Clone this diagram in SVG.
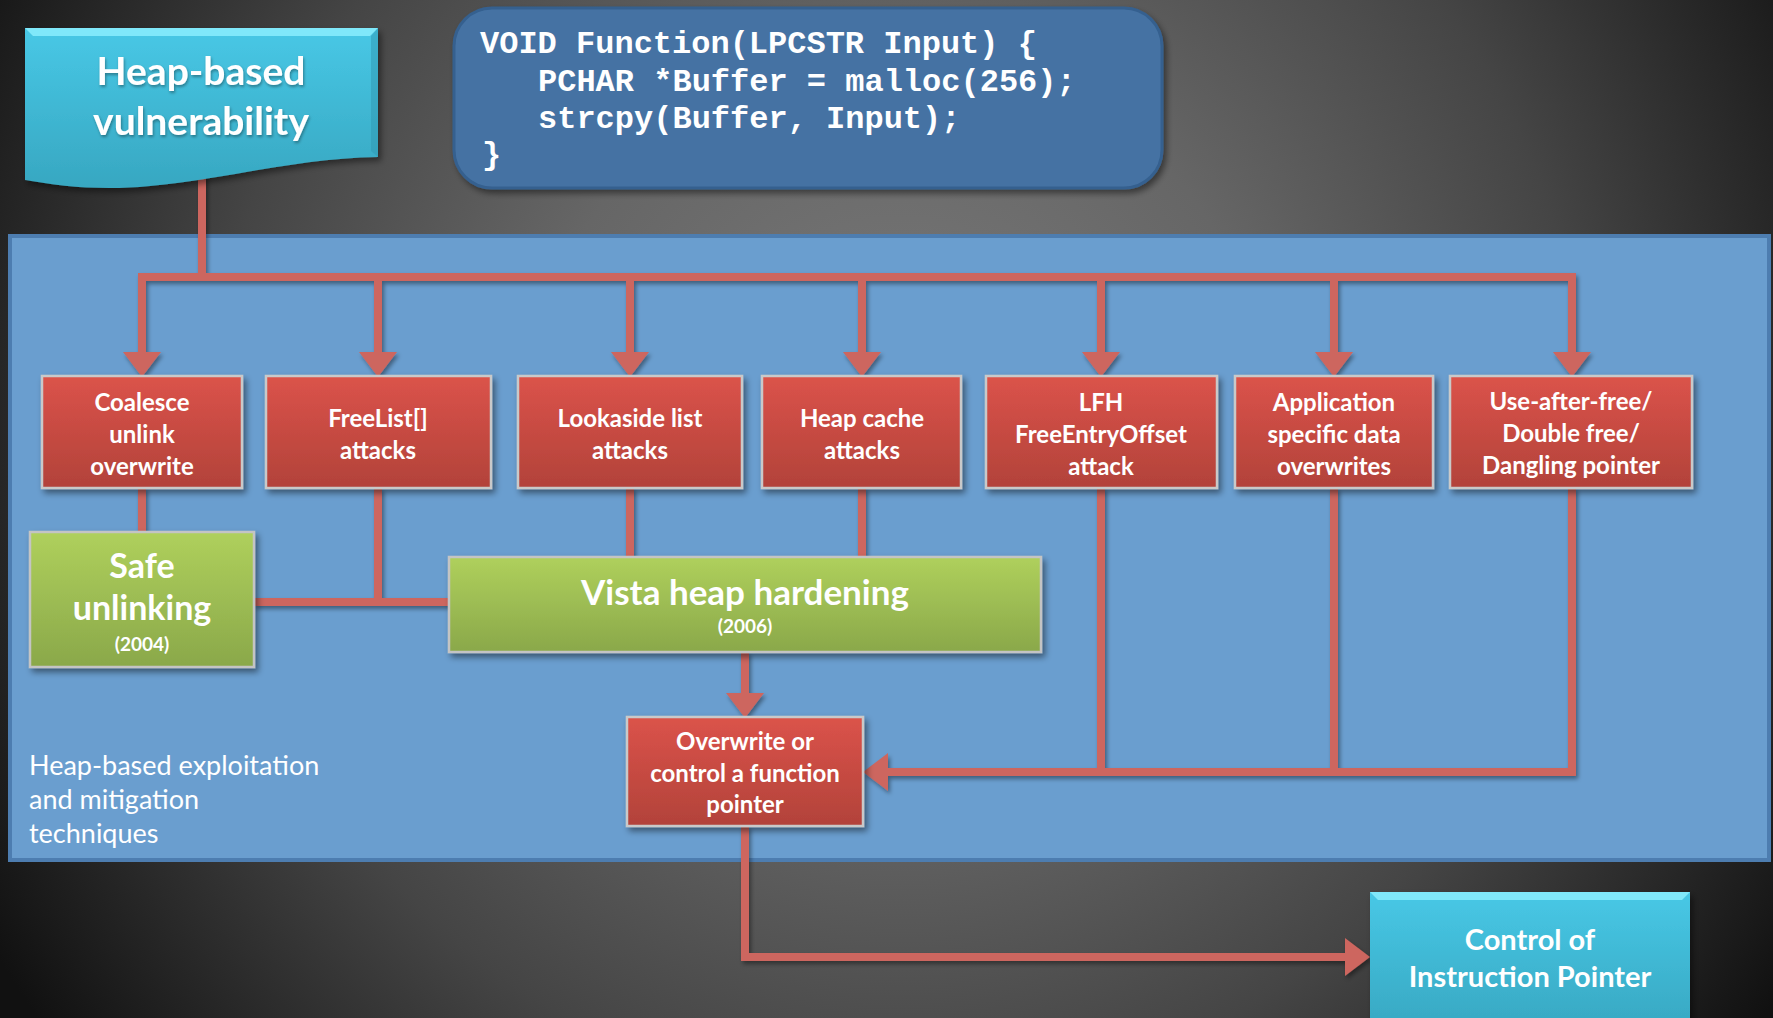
<svg xmlns="http://www.w3.org/2000/svg" width="1773" height="1018" viewBox="0 0 1773 1018">
  <defs>
    <radialGradient id="bg" gradientUnits="userSpaceOnUse" cx="900" cy="420" r="1050">
      <stop offset="0" stop-color="#7a7a7a"/>
      <stop offset="0.35" stop-color="#666666"/>
      <stop offset="0.65" stop-color="#454545"/>
      <stop offset="1" stop-color="#111111"/>
    </radialGradient>
    <linearGradient id="redg" x1="0" y1="0" x2="0" y2="1">
      <stop offset="0" stop-color="#db534a"/>
      <stop offset="1" stop-color="#b2423a"/>
    </linearGradient>
    <linearGradient id="greeng" x1="0" y1="0" x2="0" y2="1">
      <stop offset="0" stop-color="#afd05c"/>
      <stop offset="1" stop-color="#8aa84a"/>
    </linearGradient>
    <linearGradient id="cyang" x1="0" y1="0" x2="0" y2="1">
      <stop offset="0" stop-color="#48c8e6"/>
      <stop offset="1" stop-color="#37a7c1"/>
    </linearGradient>
    <filter id="shadow" x="-10%" y="-10%" width="130%" height="140%">
      <feDropShadow dx="3" dy="4" stdDeviation="3" flood-color="#000" flood-opacity="0.45"/>
    </filter>
    <filter id="lshadow" x="-5%" y="-5%" width="110%" height="115%">
      <feDropShadow dx="2" dy="3" stdDeviation="2" flood-color="#000" flood-opacity="0.4"/>
    </filter>
    <filter id="tshadow" x="-5%" y="-10%" width="110%" height="130%">
      <feDropShadow dx="1" dy="2" stdDeviation="1.5" flood-color="#000" flood-opacity="0.35"/>
    </filter>
    <marker id="arrow" markerUnits="userSpaceOnUse" markerWidth="26" markerHeight="40" refX="0" refY="19" orient="auto">
      <path d="M0,0 L25,19 L0,38 Z" fill="#cd665f"/>
    </marker>
    <style>
      .conn { fill: none; stroke: #cd665f; stroke-width: 8; stroke-linejoin: miter; }
      .red { fill: url(#redg); stroke: #c9c9c9; stroke-width: 2.5; filter: url(#shadow); }
      .green { fill: url(#greeng); stroke: #c4c4c4; stroke-width: 2.5; filter: url(#shadow); }
      .cyan { fill: url(#cyang); filter: url(#shadow); }
      .t { font-family: Lato, "Open Sans", "Liberation Sans", sans-serif; font-weight: bold; fill: #ffffff; text-anchor: middle; }
      .rt { font-size: 24px; }
      .lbl { font-family: Lato, "Open Sans", "Liberation Sans", sans-serif; font-size: 27px; fill: #ffffff; }
      .code { font-family: "Liberation Mono", "DejaVu Sans Mono", monospace; font-weight: bold; font-size: 32px; fill: #ffffff; }
    </style>
  </defs>

  <rect x="0" y="0" width="1773" height="1018" fill="url(#bg)"/>

  <!-- Panel -->
  <g id="panel">
    <rect x="10" y="236" width="1759" height="624" fill="#6a9ecf" stroke="#4d7db0" stroke-width="4"/>
    <text class="lbl" x="29" y="775">Heap-based exploitation</text>
    <text class="lbl" x="29" y="809">and mitigation</text>
    <text class="lbl" x="29" y="843">techniques</text>
  </g>

  <!-- Connectors -->
  <g id="connectors" filter="url(#lshadow)">
    <path class="conn" d="M202,175 V277"/>
    <path class="conn" d="M202,277 H142 V352" marker-end="url(#arrow)"/>
    <path class="conn" d="M198,277 H1572 V352" marker-end="url(#arrow)"/>
    <path class="conn" d="M378,277 V352" marker-end="url(#arrow)"/>
    <path class="conn" d="M630,277 V352" marker-end="url(#arrow)"/>
    <path class="conn" d="M862,277 V352" marker-end="url(#arrow)"/>
    <path class="conn" d="M1101,277 V352" marker-end="url(#arrow)"/>
    <path class="conn" d="M1334,277 V352" marker-end="url(#arrow)"/>
    <path class="conn" d="M142,488 V532"/>
    <path class="conn" d="M378,488 V602 H449"/>
    <path class="conn" d="M254,602 H380"/>
    <path class="conn" d="M630,488 V557"/>
    <path class="conn" d="M862,488 V557"/>
    <path class="conn" d="M745,652 V693" marker-end="url(#arrow)"/>
    <path class="conn" d="M1101,488 V772"/>
    <path class="conn" d="M1334,488 V772"/>
    <path class="conn" d="M1572,488 V772 H888" marker-end="url(#arrow)"/>
    <path class="conn" d="M745,826 V957 H1345" marker-end="url(#arrow)"/>
  </g>

  <!-- Heap-based vulnerability -->
  <g id="heap-vuln">
    <path class="cyan" d="M25,28 H378 V157 C300,158 230,178 150,186 C100,191 60,186 25,180 Z"/>
    <path d="M25,28 H378 L370,36 H33 Z" fill="#8ef0ff" opacity="0.8"/>
    <path d="M378,28 V157 L371,151 V36 Z" fill="#2f98b2" opacity="0.5"/>
    <g filter="url(#tshadow)">
      <text class="t" x="201" y="85" font-size="39">Heap-based</text>
      <text class="t" x="201" y="135" font-size="39">vulnerability</text>
    </g>
  </g>

  <!-- Code -->
  <g id="code">
    <rect x="454" y="8" width="708" height="180" rx="38" ry="38" fill="#4572a3" stroke="#35608f" stroke-width="3" filter="url(#shadow)"/>
    <text class="code" x="480" y="53">VOID Function(LPCSTR Input) {</text>
    <text class="code" x="538" y="91">PCHAR *Buffer = malloc(256);</text>
    <text class="code" x="538" y="128">strcpy(Buffer, Input);</text>
    <text class="code" x="482" y="164">}</text>
  </g>

  <!-- Red attack nodes -->
  <g id="coalesce">
    <rect class="red" x="42" y="376" width="200" height="112"/>
    <text class="t rt" x="142" y="411">Coalesce</text>
    <text class="t rt" x="142" y="443">unlink</text>
    <text class="t rt" x="142" y="475">overwrite</text>
  </g>
  <g id="freelist">
    <rect class="red" x="266" y="376" width="225" height="112"/>
    <text class="t rt" x="378" y="427">FreeList[]</text>
    <text class="t rt" x="378" y="459">attacks</text>
  </g>
  <g id="lookaside">
    <rect class="red" x="518" y="376" width="224" height="112"/>
    <text class="t rt" x="630" y="427">Lookaside list</text>
    <text class="t rt" x="630" y="459">attacks</text>
  </g>
  <g id="heapcache">
    <rect class="red" x="762" y="376" width="199" height="112"/>
    <text class="t rt" x="862" y="427">Heap cache</text>
    <text class="t rt" x="862" y="459">attacks</text>
  </g>
  <g id="lfh">
    <rect class="red" x="986" y="376" width="231" height="112"/>
    <text class="t rt" x="1101" y="411">LFH</text>
    <text class="t rt" x="1101" y="443">FreeEntryOffset</text>
    <text class="t rt" x="1101" y="475">attack</text>
  </g>
  <g id="appdata">
    <rect class="red" x="1235" y="376" width="198" height="112"/>
    <text class="t rt" x="1334" y="411">Application</text>
    <text class="t rt" x="1334" y="443">specific data</text>
    <text class="t rt" x="1334" y="475">overwrites</text>
  </g>
  <g id="uaf">
    <rect class="red" x="1450" y="376" width="242" height="112"/>
    <text class="t rt" x="1571" y="410">Use-after-free/</text>
    <text class="t rt" x="1571" y="442">Double free/</text>
    <text class="t rt" x="1571" y="474">Dangling pointer</text>
  </g>

  <!-- Green mitigations -->
  <g id="safe-unlinking">
    <rect class="green" x="30" y="532" width="224" height="135"/>
    <text class="t" x="142" y="578" font-size="34">Safe</text>
    <text class="t" x="142" y="620" font-size="34">unlinking</text>
    <text class="t" x="142" y="651" font-size="19">(2004)</text>
  </g>
  <g id="vista">
    <rect class="green" x="449" y="557" width="592" height="95"/>
    <text class="t" x="745" y="605" font-size="35">Vista heap hardening</text>
    <text class="t" x="745" y="633" font-size="19">(2006)</text>
  </g>

  <!-- Overwrite -->
  <g id="overwrite">
    <rect class="red" x="627" y="717" width="236" height="109"/>
    <text class="t rt" x="745" y="750">Overwrite or</text>
    <text class="t rt" x="745" y="782">control a function</text>
    <text class="t rt" x="745" y="813">pointer</text>
  </g>

  <!-- Control of Instruction Pointer -->
  <g id="control-ip">
    <rect class="cyan" x="1370" y="892" width="320" height="140"/>
    <path d="M1370,892 H1690 L1682,900 H1378 Z" fill="#8ef0ff" opacity="0.8"/>
    <text class="t" x="1530" y="950" font-size="29">Control of</text>
    <text class="t" x="1530" y="987" font-size="29">Instruction Pointer</text>
  </g>
</svg>
